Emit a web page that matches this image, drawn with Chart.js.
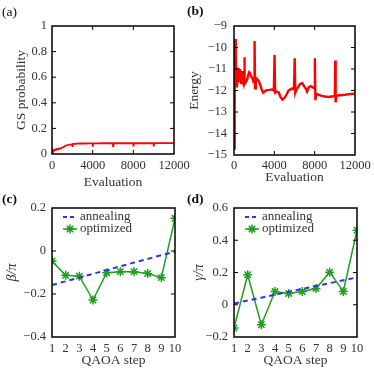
<!DOCTYPE html>
<html>
<head>
<meta charset="utf-8">
<script src="https://cdn.jsdelivr.net/npm/chart.js@4.4.1/dist/chart.umd.min.js"></script>
<style>
  body { margin: 0; background: #fff; }
  #wrap { position: relative; width: 374px; height: 374px; overflow: hidden; }
  canvas { position: absolute; }
</style>
</head>
<body>
<div id="wrap">
  <canvas id="chartA" width="200" height="195" style="left:0;top:0"></canvas>
  <canvas id="chartB" width="194" height="195" style="left:180px;top:0"></canvas>
  <canvas id="chartC" width="200" height="187" style="left:0;top:187px"></canvas>
  <canvas id="chartD" width="194" height="187" style="left:180px;top:187px"></canvas>
</div>
<script>
// (a) ground-state probability vs evaluation
const gsEval = [0, 80, 160, 260, 360, 480, 600, 720, 850, 980, 1100, 1250, 1400, 1550, 1700, 1850, 1990, 2010, 2040, 2200, 2350, 2500, 2700, 2900, 3100, 3300, 3500, 3700, 3990, 4010, 4040, 4500, 5000, 5500, 5990, 6010, 6040, 6500, 7000, 7300, 7600, 7990, 8010, 8040, 8500, 9000, 9500, 9990, 10010, 10040, 10500, 11000, 11500, 12000];
const gsProb = [0.015, 0.03, 0.022, 0.035, 0.03, 0.04, 0.036, 0.045, 0.042, 0.05, 0.052, 0.06, 0.068, 0.07, 0.073, 0.074, 0.076, 0.055, 0.077, 0.079, 0.08, 0.081, 0.082, 0.082, 0.083, 0.082, 0.083, 0.083, 0.083, 0.058, 0.083, 0.083, 0.084, 0.084, 0.084, 0.06, 0.084, 0.084, 0.084, 0.084, 0.084, 0.084, 0.058, 0.084, 0.084, 0.084, 0.084, 0.084, 0.06, 0.085, 0.085, 0.085, 0.085, 0.085];

// (b) energy vs evaluation
const enEval = [0, 40, 90, 130, 170, 230, 290, 340, 400, 460, 520, 590, 660, 730, 800, 870, 940, 1000, 1030, 1070, 1180, 1300, 1400, 1500, 1600, 1700, 1800, 1900, 1990, 2040, 2090, 2160, 2250, 2350, 2450, 2600, 2750, 2900, 3050, 3250, 3500, 3750, 3950, 4020, 4080, 4250, 4450, 4600, 4800, 5000, 5200, 5400, 5600, 5800, 5950, 6020, 6080, 6200, 6350, 6550, 6750, 6950, 7100, 7250, 7400, 7600, 7800, 7960, 8020, 8070, 8150, 8400, 8700, 9000, 9400, 9800, 10000, 10040, 10080, 10150, 10500, 11000, 11500, 12000];
const energy = [-14.7, -13.2, -11.5, -9.6, -10.2, -11.8, -11.2, -11.7, -10.95, -11.4, -11.0, -11.6, -11.3, -11.7, -11.1, -11.6, -11.7, -11.4, -10.45, -11.7, -11.6, -11.5, -11.3, -11.15, -11.2, -11.35, -11.4, -11.55, -11.45, -9.7, -11.9, -11.5, -11.45, -11.5, -11.55, -11.75, -11.95, -12.1, -12.05, -11.98, -11.97, -11.95, -12.0, -10.35, -12.1, -12.05, -12.1, -12.3, -12.42, -12.35, -12.2, -12.0, -11.95, -11.9, -11.95, -10.5, -12.1, -11.95, -11.85, -11.7, -11.65, -11.8, -11.9, -12.05, -11.85, -11.8, -11.85, -11.9, -10.5, -12.45, -12.15, -12.2, -12.25, -12.28, -12.3, -12.27, -12.25, -10.6, -12.55, -12.25, -12.22, -12.2, -12.17, -12.15];

// (c), (d) QAOA angles
const qaoaSteps = [1, 2, 3, 4, 5, 6, 7, 8, 9, 10];
const betaAnneal = [-0.158, -0.141, -0.124, -0.106, -0.089, -0.071, -0.054, -0.037, -0.019, -0.003];
const betaOpt = [-0.047, -0.113, -0.117, -0.228, -0.101, -0.096, -0.096, -0.105, -0.124, 0.152];
const gammaAnneal = [0.008, 0.026, 0.044, 0.062, 0.080, 0.098, 0.116, 0.134, 0.152, 0.170];
const gammaOpt = [-0.144, 0.186, -0.124, 0.082, 0.070, 0.082, 0.101, 0.202, 0.082, 0.462];

const SERIF = "'Liberation Serif', 'Times New Roman', serif";
const TXT = '#333';
const RED = '#ff0000';
const BLUE = '#2f2ff0';
const GREEN = '#1f9e1f';

function fmt(v) {
  let r = Math.round(v * 100) / 100;
  return (r < 0 ? '\u2212' : '') + String(Math.abs(r));
}

function pts(xs, ys) {
  return xs.map((x, i) => ({ x: x, y: ys[i] }));
}

// frame, inward ticks, panel letter and (optionally) legend
const framePlugin = {
  id: 'frame',
  afterDraw(chart) {
    const ctx = chart.ctx;
    const a = chart.chartArea;
    const o = chart.options.plugins.frame;
    ctx.save();
    ctx.strokeStyle = '#000';
    ctx.lineWidth = 1.5;
    ctx.strokeRect(a.left, a.top, a.right - a.left, a.bottom - a.top);
    ctx.lineWidth = 1;
    const tl = 4;
    if (o.xTicks) {
      chart.scales.x.ticks.forEach(t => {
        const px = chart.scales.x.getPixelForValue(t.value);
        if (px <= a.left + 1 || px >= a.right - 1) return;
        ctx.beginPath();
        ctx.moveTo(px, a.bottom); ctx.lineTo(px, a.bottom - tl);
        ctx.moveTo(px, a.top); ctx.lineTo(px, a.top + tl);
        ctx.stroke();
      });
    }
    chart.scales.y.ticks.forEach(t => {
      const py = chart.scales.y.getPixelForValue(t.value);
      if (py <= a.top + 1 || py >= a.bottom - 1) return;
      ctx.beginPath();
      ctx.moveTo(a.left, py); ctx.lineTo(a.left + tl, py);
      ctx.moveTo(a.right, py); ctx.lineTo(a.right - tl, py);
      ctx.stroke();
    });

    ctx.fillStyle = '#111';
    ctx.font = (o.bold ? 'bold ' : '') + '13.5px ' + SERIF;
    ctx.textBaseline = 'middle';
    ctx.textAlign = 'left';
    ctx.fillText(o.letter, o.lx, o.ly);

    if (o.legend) {
      const x0 = a.left + 11, x1 = a.left + 25, tx = a.left + 28;
      const y1 = a.top + 9, y2 = a.top + 21;
      ctx.font = '13px ' + SERIF;
      ctx.fillStyle = TXT;
      ctx.fillText('annealing', tx, y1);
      ctx.fillText('optimized', tx, y2);
      ctx.strokeStyle = BLUE;
      ctx.lineWidth = 2;
      ctx.setLineDash([4, 3]);
      ctx.beginPath(); ctx.moveTo(x0, y1); ctx.lineTo(x1, y1); ctx.stroke();
      ctx.setLineDash([]);
      ctx.strokeStyle = GREEN;
      ctx.lineWidth = 1.5;
      ctx.beginPath(); ctx.moveTo(x0, y2); ctx.lineTo(x1, y2); ctx.stroke();
      const cx = (x0 + x1) / 2, r = 4.5;
      ctx.beginPath();
      ctx.moveTo(cx - r, y2); ctx.lineTo(cx + r, y2);
      ctx.moveTo(cx, y2 - r); ctx.lineTo(cx, y2 + r);
      ctx.moveTo(cx - r * 0.7, y2 - r * 0.7); ctx.lineTo(cx + r * 0.7, y2 + r * 0.7);
      ctx.moveTo(cx - r * 0.7, y2 + r * 0.7); ctx.lineTo(cx + r * 0.7, y2 - r * 0.7);
      ctx.stroke();
    }
    ctx.restore();
  }
};

function makeChart(id, cfg) {
  const yTitleFont = cfg.yItalic
    ? { family: SERIF, size: 14, style: 'italic' }
    : { family: SERIF, size: 13.5 };
  return new Chart(document.getElementById(id), {
    type: 'line',
    data: { datasets: cfg.datasets },
    plugins: [framePlugin],
    options: {
      responsive: false,
      animation: false,
      devicePixelRatio: 1,
      layout: { padding: { left: 0, top: cfg.top, right: cfg.right, bottom: 0 } },
      elements: { line: { tension: 0 } },
      plugins: {
        legend: { display: false },
        tooltip: { enabled: false },
        frame: { letter: cfg.letter, lx: cfg.lx, ly: cfg.ly, bold: cfg.bold, legend: cfg.legend, xTicks: cfg.xTicks }
      },
      scales: {
        x: {
          type: 'linear',
          min: cfg.xMin, max: cfg.xMax,
          grid: { display: false, drawTicks: false },
          border: { display: false },
          ticks: {
            stepSize: cfg.xStep, autoSkip: false, maxRotation: 0, padding: cfg.xTickPad,
            color: TXT, font: { family: SERIF, size: 12.5 },
            callback: v => fmt(v)
          },
          title: {
            display: true, text: cfg.xTitle, color: TXT,
            font: { family: SERIF, size: 13.5 },
            padding: { top: 0, bottom: cfg.xTitlePad }
          },
          afterFit: s => { s.height = cfg.xH; s.paddingLeft = 0; s.paddingRight = 0; }
        },
        y: {
          min: cfg.yMin, max: cfg.yMax,
          grid: { display: false, drawTicks: false },
          border: { display: false },
          ticks: {
            stepSize: cfg.yStep, autoSkip: false, padding: cfg.yTickPad,
            color: TXT, font: { family: SERIF, size: 12.5 },
            callback: v => fmt(v)
          },
          title: {
            display: true, text: cfg.yTitle, color: TXT,
            font: yTitleFont,
            padding: { top: cfg.yTitlePad, bottom: 0 }
          },
          afterFit: s => { s.width = cfg.yW; s.paddingTop = 0; s.paddingBottom = 0; }
        }
      }
    }
  });
}

makeChart('chartA', {
  datasets: [{ data: pts(gsEval, gsProb), borderColor: RED, borderWidth: 1.8, pointRadius: 0 }],
  top: 26, right: 26, yW: 52, xH: 41,
  xMin: 0, xMax: 12000, xStep: 4000, yMin: 0, yMax: 1, yStep: 0.2,
  xTitle: 'Evaluation', yTitle: 'GS probability',
  xTickPad: 4, yTickPad: 5, xTitlePad: 4.6, yTitlePad: 13.5,
  letter: '(a)', lx: 2, ly: 12, bold: false, xTicks: true
});

makeChart('chartB', {
  datasets: [{ data: pts(enEval, energy), borderColor: RED, borderWidth: 2.4, pointRadius: 0 }],
  top: 26, right: 19, yW: 54, xH: 40,
  xMin: 0, xMax: 12000, xStep: 4000, yMin: -15, yMax: -9, yStep: 1,
  xTitle: 'Evaluation', yTitle: 'Energy',
  xTickPad: 3, yTickPad: 7, xTitlePad: 9.6, yTitlePad: 6,
  letter: '(b)', lx: 7, ly: 12, bold: true, xTicks: true
});

makeChart('chartC', {
  datasets: [
    { data: pts(qaoaSteps, betaAnneal), borderColor: BLUE, borderWidth: 2, borderDash: [5, 4], pointRadius: 0 },
    { data: pts(qaoaSteps, betaOpt), borderColor: GREEN, borderWidth: 1.5, pointStyle: 'star', pointRadius: 4.5, pointBorderWidth: 1.5, pointBorderColor: GREEN }
  ],
  top: 21, right: 25, yW: 52, xH: 37,
  xMin: 1, xMax: 10, xStep: 1, yMin: -0.4, yMax: 0.2, yStep: 0.2,
  xTitle: 'QAOA step', yTitle: '\u03b2/\u03c0', yItalic: true,
  xTickPad: 4, yTickPad: 6, xTitlePad: 5.6, yTitlePad: 3.5,
  letter: '(c)', lx: 2, ly: 13, bold: true, legend: true, xTicks: false
});

makeChart('chartD', {
  datasets: [
    { data: pts(qaoaSteps, gammaAnneal), borderColor: BLUE, borderWidth: 2, borderDash: [5, 4], pointRadius: 0 },
    { data: pts(qaoaSteps, gammaOpt), borderColor: GREEN, borderWidth: 1.5, pointStyle: 'star', pointRadius: 4.5, pointBorderWidth: 1.5, pointBorderColor: GREEN }
  ],
  top: 21, right: 17, yW: 54, xH: 37,
  xMin: 1, xMax: 10, xStep: 1, yMin: -0.2, yMax: 0.6, yStep: 0.2,
  xTitle: 'QAOA step', yTitle: '\u03b3/\u03c0', yItalic: true,
  xTickPad: 4, yTickPad: 6, xTitlePad: 5.6, yTitlePad: 10.5,
  letter: '(d)', lx: 7, ly: 13, bold: true, legend: true, xTicks: false
});
</script>
</body>
</html>
